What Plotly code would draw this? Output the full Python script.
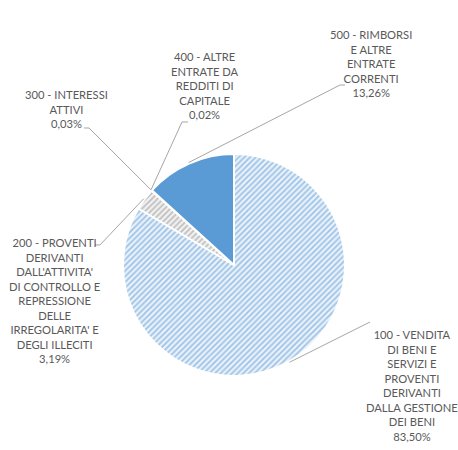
import math
import plotly.graph_objects as go

W, H = 458, 450

categories = [
    "100 - VENDITA<br>DI BENI E<br>SERVIZI E<br>PROVENTI<br>DERIVANTI<br>DALLA GESTIONE<br>DEI BENI",
    "200 - PROVENTI<br>DERIVANTI<br>DALL'ATTIVITA'<br>DI CONTROLLO E<br>REPRESSIONE<br>DELLE<br>IRREGOLARITA' E<br>DEGLI ILLECITI",
    "300 - INTERESSI<br>ATTIVI",
    "400 - ALTRE<br>ENTRATE DA<br>REDDITI DI<br>CAPITALE",
    "500 - RIMBORSI<br>E ALTRE<br>ENTRATE<br>CORRENTI",
]
values = [83.50, 3.19, 0.03, 0.02, 13.26]
value_labels = ["83,50%", "3,19%", "0,03%", "0,02%", "13,26%"]

# label layout (pixel positions of text centre x / top y, and leader elbow)
label_pos = [(412, 326), (54, 234), (66, 86), (205, 48), (371, 26)]
elbows = [[(370, 322)], [(95, 245), (100, 245)], [(84, 128), (89, 128)],
          [(188, 122), (182, 122)], [(345, 85), (340, 85)]]

cx, cy, R = 234, 265, 111

def px(x):
    return x / W

def py(y):
    return 1 - y / H

fig = go.Figure()
fig.add_trace(go.Pie(
    labels=[c.replace("<br>", " ") for c in categories],
    values=values,
    sort=False,
    direction="clockwise",
    rotation=0,
    textinfo="none",
    hoverinfo="label+percent",
    marker=dict(
        colors=["#DDEBF7", "#FFFFFF", "#DDEBF7", "#DDEBF7", "#5B9BD5"],
        line=dict(color="#FFFFFF", width=2),
        pattern=dict(
            shape=["/", "/", "/", "/", ""],
            fgcolor=["#9DC3E6", "#BFBFBF", "#9DC3E6", "#9DC3E6", "#5B9BD5"],
            bgcolor=["#EAF2FA", "#F2F2F2", "#EAF2FA", "#EAF2FA", "#5B9BD5"],
            size=4,
            solidity=0.45,
            fillmode="replace",
        ),
    ),
    domain=dict(x=[px(cx - R), px(cx + R)], y=[py(cy + R), py(cy - R)]),
    showlegend=False,
))

total = sum(values)
cum = 0
shapes = []
annotations = []
for i, v in enumerate(values):
    mid = (cum + v / 2) / total * 2 * math.pi
    cum += v
    ax = cx + (R + 1) * math.sin(mid)
    ay = cy - (R + 1) * math.cos(mid)
    pts = elbows[i] + [(ax, ay)]
    path = "M " + " L ".join(f"{px(x):.5f},{py(y):.5f}" for x, y in pts)
    shapes.append(dict(type="path", path=path, xref="paper", yref="paper",
                       line=dict(color="#A6A6A6", width=1)))
    lx, ly = label_pos[i]
    annotations.append(dict(
        text=categories[i] + "<br>" + value_labels[i],
        x=px(lx), y=py(ly), xref="paper", yref="paper",
        xanchor="center", yanchor="top", align="center", showarrow=False,
        font=dict(family="Lato", size=11.2, color="#595959"),
    ))

fig.update_layout(
    width=W, height=H,
    margin=dict(l=0, r=0, t=0, b=0),
    paper_bgcolor="#FFFFFF",
    plot_bgcolor="#FFFFFF",
    shapes=shapes,
    annotations=annotations,
)

fig.write_html("out.html", config={"displayModeBar": False},
               post_script="document.body.style.margin='0';")
